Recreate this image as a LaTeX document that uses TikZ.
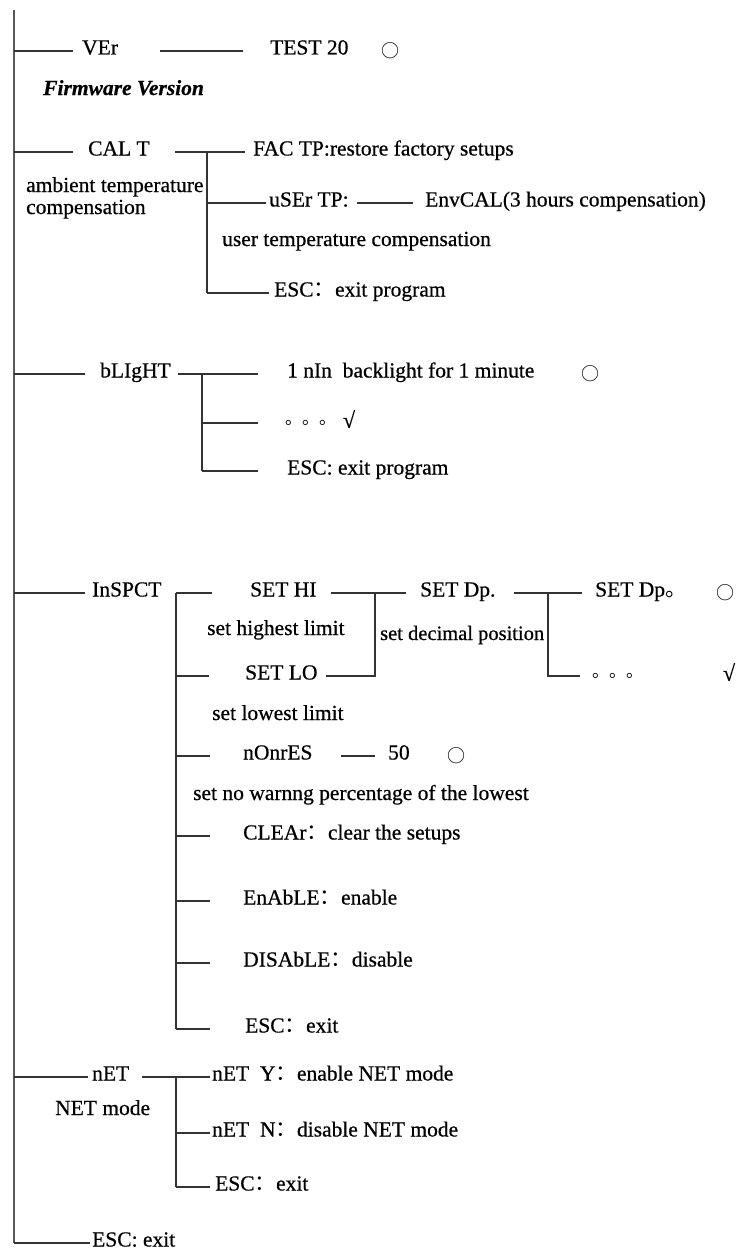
\documentclass[tikz,border=0pt]{standalone}
\usepackage{fontspec}
\setmainfont{Liberation Serif}[FakeBold=0.6]
\newfontfamily\cjk{Noto Sans CJK SC}
\newcommand{\msize}{\fontsize{21.5}{22}\selectfont}
\newcommand{\fcolon}{{\cjk ：}}

\begin{document}
\begin{tikzpicture}[x=1pt, y=-1pt, font=\msize,
  lbl/.style={anchor=west, inner sep=0pt, text height=0.8em, text depth=0.1em},
  note/.style={anchor=base west, inner sep=0pt},
  sym/.style={inner sep=0pt, font=\cjk\fontsize{18}{18}\selectfont},
  tick/.style={inner sep=0pt, font=\fontsize{22}{22}\selectfont},
  dots/.style={anchor=west, inner sep=0pt, text height=0.22em, text depth=0pt,
    font=\cjk\fontsize{17}{17}\selectfont},
  ln/.style={line width=1.1pt, black!80},
  spine/.style={line width=1.6pt, black!65}]
\useasboundingbox (0,0) rectangle (736,1255);
% main menu column
\coordinate (top) at (14,10);
\coordinate (bot) at (14,1243);
\node[lbl] (ver)  at (82,51)   {VEr};
\node[lbl] (cal)  at (88,152)  {CAL T};
\node[lbl] (blt)  at (100,374) {bLIgHT};
\node[lbl] (ins)  at (92,593)  {InSPCT};
\node[lbl] (net)  at (92,1077) {nET};
\node[lbl] (quit) at (92,1243) {ESC: exit};
\draw[spine] (top) -- (bot);
\foreach \n/\g in {ver/9pt,cal/15pt,blt/15pt,ins/7pt,net/4pt,quit/2pt}
  \draw[ln, shorten >=\g] (top |- \n.west) -- (\n.west);
% VEr
\node[lbl] (test) at (270,51) {TEST 20};
\node[sym] (vo) at (390,51) {○};
\node[note, font=\msize\bfseries\itshape] (fwv) at (43,95) {Firmware Version};
\draw[ln, shorten <=42pt, shorten >=27pt] (ver.east) -- (test.west);
% CAL T
\coordinate (calj) at (207,152);
\node[lbl] (fac)  at (253,152) {FAC TP:restore factory setups};
\node[lbl] (usr)  at (269,203) {uSEr TP:};
\node[lbl] (env)  at (425,203) {EnvCAL(3 hours compensation)};
\node[lbl] (calq) at (274,293) {ESC\fcolon exit program};
\node[note] (amb)  at (26,192) {ambient temperature};
\node[note] (ambc) at (26,214) {compensation};
\node[note] (usrd) at (222,246) {user temperature compensation};
\draw[ln, shorten <=25pt, shorten >=8pt] (cal.east) -- (fac.west);
\draw[ln] (calj) -- (calj |- calq.west);
\draw[ln, shorten >=3pt] (calj |- usr.west) -- (usr.west);
\draw[ln, shorten >=5pt] (calj |- calq.west) -- (calq.west);
\draw[ln, shorten <=8pt, shorten >=12pt] (usr.east) -- (env.west);
% bLIgHT
\coordinate (bltj) at (202,374);
\node[lbl]  (bmin) at (287,374) {1 nIn\ \ backlight for 1 minute};
\node[sym]  (bo)   at (590,374) {○};
\node[dots] (bdot) at (285,423) {。。。};
\node[tick] (bok)  at (349,419) {√};
\node[lbl]  (bq)   at (287,471) {ESC: exit program};
\draw[ln, shorten <=7pt, shorten >=29pt] (blt.east) -- (bmin.west);
\draw[ln] (bltj) -- (bltj |- bq.west);
\draw[ln, shorten >=27pt] (bltj |- bdot.west) -- (bdot.west);
\draw[ln, shorten >=29pt] (bltj |- bq.west) -- (bq.west);
% InSPCT
\coordinate (insj) at (176,593);
\coordinate (hij) at (375,593);
\coordinate (dpj) at (548,593);
\node[lbl]  (shi)   at (250,593) {SET HI};
\node[lbl]  (slo)   at (245,676) {SET LO};
\node[lbl]  (sdp)   at (420,593) {SET Dp.};
\node[lbl]  (sdp2)  at (595,593) {SET Dp{\cjk 。}};
\node[sym]  (so)    at (725,593) {○};
\node[dots] (sdots) at (592,676) {。。。};
\node[tick] (sok)   at (729,672) {√};
\node[note] (shid)  at (207,635) {set highest limit};
\node[note, font=\fontsize{20.5}{22}\selectfont] (sdpd) at (380,640) {set decimal position};
\node[note] (slod)  at (212,720) {set lowest limit};
\node[lbl]  (nonr)  at (243,756) {nOnrES};
\node[lbl]  (n50)   at (388,756) {50};
\node[sym]  (no)    at (456,756) {○};
\node[note] (nonrd) at (193,800) {set no warnng percentage of the lowest};
\node[lbl]  (clr)   at (243,836) {CLEAr\fcolon clear the setups};
\node[lbl]  (enb)   at (243,901) {EnAbLE\fcolon enable};
\node[lbl]  (dis)   at (243,963) {DISAbLE\fcolon disable};
\node[lbl]  (iq)    at (245,1029) {ESC\fcolon exit};
\draw[ln, shorten >=38pt] (insj) -- (shi.west);
\draw[ln] (insj) -- (insj |- iq.west);
\foreach \n/\g in {slo/36pt,nonr/33pt,clr/33pt,enb/33pt,dis/33pt,iq/35pt}
  \draw[ln, shorten >=\g] (insj |- \n.west) -- (\n.west);
\draw[ln, shorten <=14pt, shorten >=14pt] (shi.east) -- (sdp.west);
\draw[ln, shorten <=8pt] (slo.east) -| (hij);
\draw[ln, shorten <=18pt, shorten >=13pt] (sdp.east) -- (sdp2.west);
\draw[ln, shorten >=12pt] (dpj) |- (sdots.west);
\draw[ln, shorten <=28pt, shorten >=13pt] (nonr.east) -- (n50.west);
% nET
\coordinate (netj) at (176,1077);
\node[lbl]  (nety) at (212,1077) {nET\ \ Y\fcolon enable NET mode};
\node[lbl]  (netn) at (212,1133) {nET\ \ N\fcolon disable NET mode};
\node[lbl]  (nq)   at (215,1187) {ESC\fcolon exit};
\node[note] (netd) at (55,1115) {NET mode};
\draw[ln, shorten <=13pt, shorten >=2pt] (net.east) -- (nety.west);
\draw[ln] (netj) -- (netj |- nq.west);
\draw[ln, shorten >=2pt] (netj |- netn.west) -- (netn.west);
\draw[ln, shorten >=5pt] (netj |- nq.west) -- (nq.west);
\end{tikzpicture}
\end{document}
